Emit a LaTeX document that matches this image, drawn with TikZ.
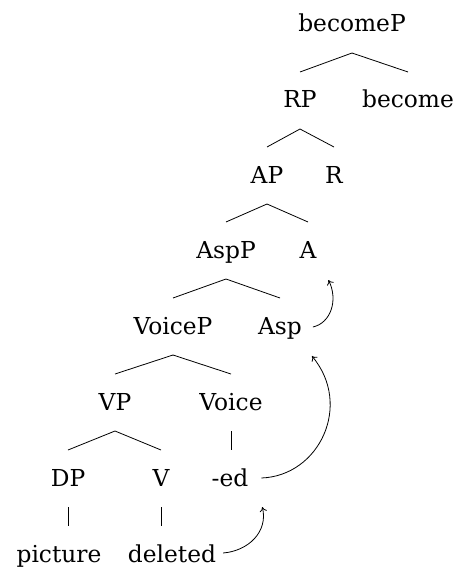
\documentclass[tikz,border=0pt]{standalone}
\usepackage{fontspec}
\setmainfont{DejaVu Serif}
\usetikzlibrary{arrows.meta}

\tikzset{
  lbl/.style={anchor=base, inner sep=0pt, outer xsep=0pt, outer ysep=15.75pt,
    text height=11.25pt, text depth=0pt, font=\fontsize{17.5}{20}\selectfont},
  br/.style={line width=0.6pt},
  mv/.style={line width=0.6pt, -{To[length=3.5pt,width=5.5pt]}}
}

\begin{document}
\begin{tikzpicture}[x=0.75pt,y=0.75pt,yscale=-1,xscale=1]
\useasboundingbox (0,0) rectangle (458,567);

% Text Node
\node [lbl] (becomeP) at (352,32) {becomeP};
% Text Node
\node [lbl] (RP) at (300,108) {RP};
% Text Node
\node [lbl] (become) at (408,108) {become};
% Text Node
\node [lbl] (AP) at (267,183) {AP};
% Text Node
\node [lbl] (R) at (334,183) {R};
% Text Node
\node [lbl] (AspP) at (226,258) {AspP};
% Text Node
\node [lbl] (A) at (308,258) {A};
% Text Node
\node [lbl] (VoiceP) at (173,334) {VoiceP};
% Text Node
\node [lbl] (Asp) at (280,334) {Asp};
% Text Node
\node [lbl] (VP) at (115,410) {VP};
% Text Node
\node [lbl] (Voice) at (231,410) {Voice};
% Text Node
\node [lbl] (DP) at (68,486) {DP};
% Text Node
\node [lbl] (V) at (161,486) {V};
% Text Node
\node [lbl] (ed) at (230,486) {-ed};
% Text Node
\node [lbl] (picture) at (59,562) {picture};
% Text Node
\node [lbl] (deleted) at (172,562) {deleted};

%Straight Lines
\draw [br] (RP.north) -- (becomeP.south) -- (become.north) ;
\draw [br] (AP.north) -- (RP.south) -- (R.north) ;
\draw [br] (AspP.north) -- (AP.south) -- (A.north) ;
\draw [br] (VoiceP.north) -- (AspP.south) -- (Asp.north) ;
\draw [br] (VP.north) -- (VoiceP.south) -- (Voice.north) ;
\draw [br] (DP.north) -- (VP.south) -- (V.north) ;
\draw [br] (Voice.south) -- (Voice.south |- ed.north) ;
\draw [br] (DP.south) -- (DP.south |- picture.north) ;
\draw [br] (V.south) -- (V.south |- deleted.north) ;

%Curved Arrows
\draw [mv] ([xshift=5.25pt,yshift=-6.75pt]deleted.base east) .. controls +(25,-2) and +(6,25) .. ([xshift=10.5pt,yshift=15.75pt]ed.base east) ;
\draw [mv] ([xshift=9.75pt,yshift=-6pt]ed.base east) .. controls +(58,-2) and +(41,49) .. ([xshift=7.5pt,yshift=16.5pt]Asp.base east) ;
\draw [mv] ([xshift=8.25pt,yshift=-5.25pt]Asp.base east) .. controls +(18,-4) and +(10,20) .. ([xshift=9pt,yshift=16.5pt]A.base east) ;

\end{tikzpicture}
\end{document}
